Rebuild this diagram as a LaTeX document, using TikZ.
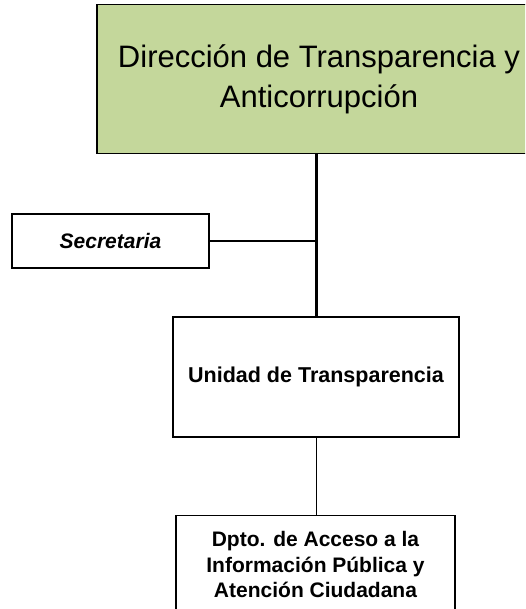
\documentclass[tikz,border=0pt]{standalone}
\usepackage{fontspec}
\setmainfont{Liberation Sans}
\definecolor{topgreen}{RGB}{196,215,155}
\begin{document}
\begin{tikzpicture}[x=1pt,y=-1pt,
  box/.style={draw=black,line width=1.4pt,align=center,inner sep=0pt},
  conn/.style={draw=black,line width=1.2pt}]
\useasboundingbox (0,0) rectangle (525,609);
\clip (0,0) rectangle (525,609);
\node[box,fill=topgreen,minimum width=444,minimum height=149,
  font=\fontsize{31}{40}\selectfont] (top) at (319,79)
  {Dirección de Transparencia y\\Anticorrupción};
\node[box,minimum width=197,minimum height=54,
  font=\fontsize{21}{24}\selectfont\bfseries\itshape] (sec) at (110.5,241) {Secretaria};
\node[box,minimum width=286,minimum height=120,
  font=\fontsize{21.5}{25}\selectfont\bfseries] (uni) at (316,377) {Unidad de Transparencia};
\node[box,anchor=north,minimum width=279,inner ysep=16pt,
  font=\fontsize{21}{25.5}\selectfont\bfseries] (dpto) at (315.5,515)
  {Dpto. de Acceso a la\\Información Pública y\\Atención Ciudadana\\[30pt]};
\draw[conn,line width=3pt] (uni.north |- top.south) -- (uni.north);
\draw[conn] (sec.east) -- (sec.east -| uni.north);
\draw[conn,line width=1pt] (uni.south) -- (uni.south |- dpto.north);
\end{tikzpicture}
\end{document}
